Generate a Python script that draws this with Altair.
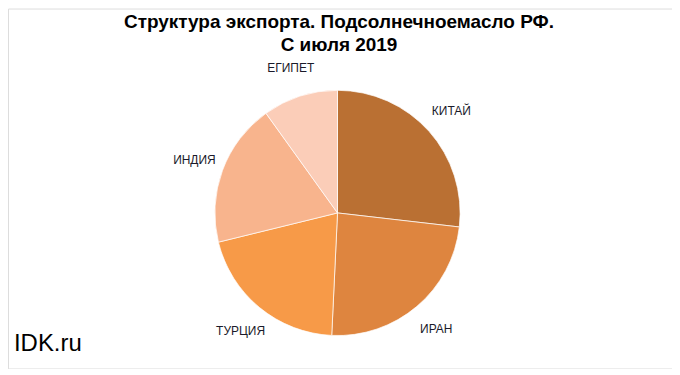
import altair as alt
import pandas as pd

countries = ["КИТАЙ", "ИРАН", "ТУРЦИЯ", "ИНДИЯ", "ЕГИПЕТ"]
shares = [26.8, 23.9, 20.4, 18.9, 9.9]
colors = ["#BA7033", "#DE853F", "#F79A48", "#F8B48D", "#FBCDB8"]
title_lines = ["Структура экспорта. Подсолнечноемасло РФ.", "С июля 2019"]
watermark = "IDK.ru"

df = pd.DataFrame({"country": countries, "share": shares, "order": list(range(len(countries)))})

CX, CY = 330.5, 205

base = alt.Chart(df).encode(
    theta=alt.Theta("share:Q", stack=True),
    order=alt.Order("order:Q"),
)

pie = base.mark_arc(outerRadius=123, stroke="white", strokeWidth=0.7).encode(
    color=alt.Color("country:N", scale=alt.Scale(domain=countries, range=colors), legend=None),
    x=alt.value(CX), y=alt.value(CY),
)

labels = base.mark_text(radius=153, font="Liberation Sans", fontSize=12, color="#1a1a2a",
                        align="center", baseline="middle").encode(
    text="country:N", x=alt.value(CX), y=alt.value(CY),
)

tdf = pd.DataFrame({"t": title_lines, "i": [0, 1]})
title = alt.Chart(tdf).mark_text(font="Liberation Sans", fontSize=19, fontWeight="bold",
                                 color="#000000", align="center", baseline="middle").encode(
    text="t:N",
    x=alt.value(332),
    y=alt.Y("i:Q", scale=alt.Scale(domain=[0, 1], range=[14, 37]), axis=None),
)

wm = alt.Chart(pd.DataFrame({"t": [watermark]})).mark_text(
    font="Liberation Sans", fontSize=24, color="#000000", align="left", baseline="middle"
).encode(text="t:N", x=alt.value(6), y=alt.value(336))

chart = alt.layer(pie, labels, title, wm).properties(
    width=666, height=361, padding=0, autosize=alt.AutoSizeParams(type="none")
).configure_view(stroke="#BFBFBF", strokeWidth=1.5).configure(background="white")

chart.save("out.html", embed_options={"renderer": "svg", "actions": False})
